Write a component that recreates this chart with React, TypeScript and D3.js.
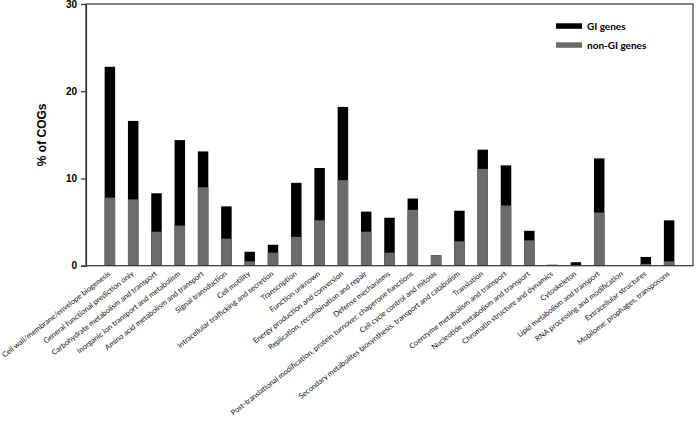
import React, { useEffect, useRef } from "react";
import * as d3 from "d3";

const categories = [
  "Cell wall/membrane/envelope biogenesis",
  "General functional prediction only",
  "Carbohydrate metabolism and transport",
  "Inorganic ion transport and metabolism",
  "Amino acid metabolism and transport",
  "Signal transduction",
  "Cell motility",
  "Intracellular trafficking and secretion",
  "Transcription",
  "Function unknown",
  "Energy production and conversion",
  "Replication, recombination and repair",
  "Defense mechanisms",
  "Post-translational modification, protein turnover, chaperone functions",
  "Cell cycle control and mitosis",
  "Secondary metabolites biosynthesis, transport and catabolism",
  "Translation",
  "Coenzyme metabolism and transport",
  "Nucleotide metabolism and transport",
  "Chromatin structure and dynamics",
  "Cytoskeleton",
  "Lipid metabolism and transport",
  "RNA processing and modification",
  "Extracellular structures",
  "Mobilome: prophages, transposons",
];

// % of COGs, GI genes (black bars)
const giGenes = [
  22.8, 16.6, 8.3, 14.4, 13.1, 6.8, 1.6, 2.4, 9.5, 11.2, 18.2, 6.2, 5.5, 7.7,
  1.2, 6.3, 13.3, 11.5, 4.0, 0.1, 0.4, 12.3, 0, 1.0, 5.2,
];
// % of COGs, non-GI genes (grey bars)
const nonGiGenes = [
  7.8, 7.6, 3.9, 4.6, 9.0, 3.1, 0.5, 1.5, 3.3, 5.2, 9.8, 3.9, 1.5, 6.4, 1.2,
  2.8, 11.1, 6.9, 2.9, 0.1, 0, 6.1, 0, 0.2, 0.5,
];
const yTicks = [0, 10, 20, 30];

export default function App() {
  const ref = useRef<SVGSVGElement>(null);

  useEffect(() => {
    const svg = d3.select(ref.current);
    svg.selectAll("*").remove();

    const left = 86,
      right = 693,
      top = 4,
      bottom = 265.7;

    const x = d3
      .scaleBand()
      .domain(categories)
      .range([left, right])
      .paddingInner(0.55)
      .paddingOuter(0.8);
    const y = d3.scaleLinear().domain([0, 30]).range([bottom, top]);

    // bars: black GI behind, grey non-GI in front
    svg
      .append("g")
      .selectAll("rect")
      .data(giGenes)
      .join("rect")
      .attr("x", (d, i) => x(categories[i])!)
      .attr("width", x.bandwidth())
      .attr("y", (d) => y(d))
      .attr("height", (d) => bottom - y(d))
      .attr("fill", "#000");
    svg
      .append("g")
      .selectAll("rect")
      .data(nonGiGenes)
      .join("rect")
      .attr("x", (d, i) => x(categories[i])!)
      .attr("width", x.bandwidth())
      .attr("y", (d) => y(d))
      .attr("height", (d) => bottom - y(d))
      .attr("fill", "#6b6b6b");

    // frame
    svg
      .append("rect")
      .attr("x", left)
      .attr("y", top)
      .attr("width", right - left)
      .attr("height", bottom - top)
      .attr("fill", "none")
      .attr("stroke", "#333")
      .attr("stroke-width", 1.2);

    // y axis
    const yAxis = svg
      .append("g")
      .attr("transform", `translate(${left},0)`)
      .call(d3.axisLeft(y).tickValues(yTicks).tickSize(5).tickPadding(4));
    yAxis.select(".domain").attr("stroke", "#333").attr("stroke-width", 1.2);
    yAxis.selectAll(".tick line").attr("stroke", "#333").attr("stroke-width", 1.2);
    yAxis
      .selectAll(".tick text")
      .attr("font-family", "Liberation Sans, Arial, sans-serif")
      .attr("font-weight", "bold")
      .attr("font-size", 10)
      .attr("fill", "#000");

    svg
      .append("text")
      .attr("transform", `translate(46,${(top + bottom) / 2}) rotate(-90)`)
      .attr("text-anchor", "middle")
      .attr("font-family", "Liberation Sans, Arial, sans-serif")
      .attr("font-weight", "bold")
      .attr("font-size", 12)
      .text("% of COGs");

    // category labels
    svg
      .append("g")
      .selectAll("text")
      .data(categories)
      .join("text")
      .attr(
        "transform",
        (d) => `translate(${x(d)! + x.bandwidth() / 2 + 1},${bottom + 9}) rotate(-38)`
      )
      .attr("text-anchor", "end")
      .attr("font-family", "Lato, sans-serif")
      .attr("font-size", 7.5)
      .attr("fill", "#111")
      .text((d) => d);

    // legend
    const legend = svg.append("g");
    const items = [
      { label: "GI genes", color: "#000", y: 23.3 },
      { label: "non-GI genes", color: "#6b6b6b", y: 42.3 },
    ];
    legend
      .selectAll("rect")
      .data(items)
      .join("rect")
      .attr("x", 556)
      .attr("y", (d) => d.y)
      .attr("width", 26)
      .attr("height", 5.5)
      .attr("fill", (d) => d.color);
    legend
      .selectAll("text")
      .data(items)
      .join("text")
      .attr("x", 587)
      .attr("y", (d) => d.y + 6.5)
      .attr("font-family", "Lato, sans-serif")
      .attr("font-weight", "bold")
      .attr("font-size", 10)
      .text((d) => d.label);
  }, []);

  return (
    <svg
      ref={ref}
      width={696}
      height={428}
      style={{ position: "absolute", left: 0, top: 0, background: "#fff" }}
    />
  );
}
